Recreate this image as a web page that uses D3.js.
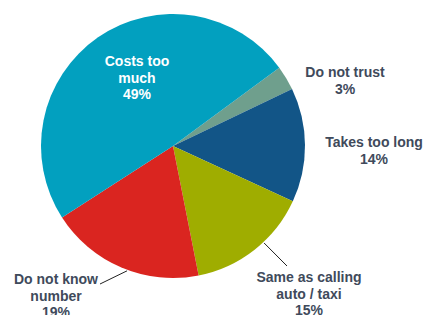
<!DOCTYPE html>
<html>
<head>
<meta charset="utf-8">
<script src="https://cdn.jsdelivr.net/npm/d3@7"></script>
<style>
  body { margin: 0; background: #fff; }
  text { font-family: "Liberation Sans", Arial, sans-serif; font-weight: bold; font-size: 14px; }
</style>
</head>
<body>
<div id="chart-area"></div>
<script>
var categories = ["Do not trust", "Takes too long", "Same as calling auto / taxi", "Do not know number", "Costs too much"];
var values = [3, 14, 15, 19, 49];
var colors = ["#6f9f8d", "#125587", "#9fad00", "#da2520", "#02a0bf"];

// label lines, text colour and where each label sits (relative to pie center)
var labelLines = [
    ["Do not trust", "3%"],
    ["Takes too long", "14%"],
    ["Same as calling", "auto / taxi", "15%"],
    ["Do not know", "number", "19%"],
    ["Costs too", "much", "49%"]
];
var labelOffset = [[172, -74], [201, -4], [136, 131], [-117, 133], [-36, -85]];
var labelFill = ["#404a5b", "#404a5b", "#404a5b", "#404a5b", "#ffffff"];

var width = 427, height = 315;
var cx = 173, cy = 146, radius = 132;
var startDeg = 53.6;

var svg = d3.select("#chart-area")
    .append("svg")
    .attr("width", width)
    .attr("height", height);

var g = svg.append("g")
    .attr("transform", "translate(" + cx + "," + cy + ")");

var data = categories.map((c, i) => ({ name: c, value: values[i], i: i }));

var a0 = startDeg * Math.PI / 180;
var pie = d3.pie().sort(null).value(d => d.value)
    .startAngle(a0).endAngle(a0 + 2 * Math.PI);
var arc = d3.arc().innerRadius(0).outerRadius(radius);

var arcs = pie(data);

g.selectAll("path.slice")
    .data(arcs)
    .enter().append("path")
    .attr("class", "slice")
    .attr("d", arc)
    .attr("fill", d => colors[d.data.i]);

// leader lines for the two lower labels
var leaders = [
    { i: 2, deg: 136.8, to: [114, 120] },
    { i: 3, deg: 200.2, to: [-73, 138] }
];
leaders.forEach(l => {
    var p = d3.pointRadial(l.deg * Math.PI / 180, radius + 1);
    g.append("line")
        .attr("x1", p[0]).attr("y1", p[1])
        .attr("x2", l.to[0]).attr("y2", l.to[1])
        .attr("stroke", "#222")
        .attr("stroke-width", 1);
});

arcs.forEach(d => {
    var i = d.data.i;
    var lines = labelLines[i];
    var t = g.append("text")
        .attr("text-anchor", "middle")
        .attr("fill", labelFill[i]);
    lines.forEach((s, k) => {
        t.append("tspan")
            .attr("x", labelOffset[i][0])
            .attr("y", labelOffset[i][1] + k * 16.5 + 5)
            .text(s);
    });
});
</script>
</body>
</html>
